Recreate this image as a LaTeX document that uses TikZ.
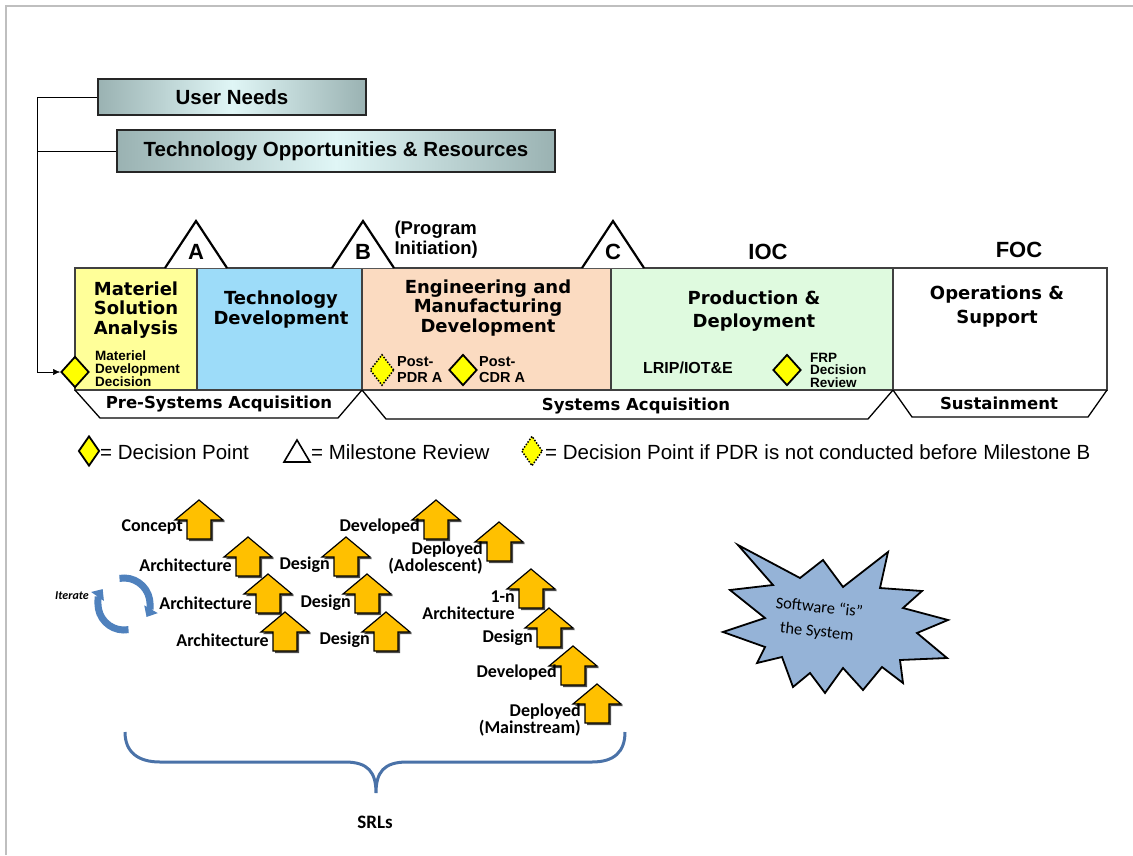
\documentclass[tikz,border=0pt]{standalone}
\usepackage{fontspec}
\setmainfont{Liberation Sans}
\newfontfamily\verdfont{DejaVu Sans}
\newfontfamily\calfont{Carlito}
\usetikzlibrary{shapes.geometric,arrows.meta}
\definecolor{msafill}{HTML}{FFFF99}
\definecolor{tdfill}{HTML}{9DDCF9}
\definecolor{emdfill}{HTML}{FBDBC1}
\definecolor{pdfill}{HTML}{DFFADF}
\definecolor{dpyellow}{HTML}{FFFF00}
\definecolor{srlorange}{HTML}{FFC000}
\definecolor{burstblue}{HTML}{95B3D7}
\definecolor{iterblue}{HTML}{4F81BD}
\definecolor{braceblue}{HTML}{4A72A8}
\definecolor{boxedge}{HTML}{9AB2B2}
\definecolor{boxmid}{HTML}{E0F6F6}
\newcommand{\sz}[2]{\fontsize{#1}{#2}\selectfont}
\begin{document}
\begin{tikzpicture}[x=1pt,y=-1pt,
  needbox/.style={draw=black!85,line width=2.2pt,left color=boxedge,right color=boxedge,
    middle color=boxmid,font=\bfseries\sz{20.5}{22}},
  phasebox/.style={draw=black!75,line width=2.4pt},
  phasetitle/.style={font=\verdfont\bfseries\sz{18}{19.5},align=center},
  tabline/.style={draw=black,line width=1.3pt},
  tabtext/.style={font=\verdfont\bfseries\sz{16.5}{18}},
  milestone/.style={draw=black,line width=2.2pt,fill=white},
  decision/.style={diamond,draw=black,line width=1.8pt,fill=dpyellow,inner sep=0pt,
    minimum width=28pt,minimum height=31pt},
  pdrdecision/.style={decision,line width=1.5pt,dash pattern=on 1.5pt off 1.5pt},
  smalltext/.style={font=\bfseries\sz{13.5}{12.5},align=left,inner sep=0pt},
  legendtext/.style={font=\sz{20.5}{24},anchor=west,inner sep=0pt},
  srlarrow/.style={draw=black,line width=1.2pt,fill=srlorange},
  srltext/.style={font=\calfont\bfseries\sz{18}{17},align=right,inner sep=0pt},
  cyc/.style={iterblue,line width=7pt,-{Triangle[width=15pt,length=9pt]}}]
\useasboundingbox (0,0) rectangle (1133,855);
\draw[gray!50,line width=2.5pt] (6,855) -- (6,6) -- (1133,6);

%% inputs on the left
\node[needbox,minimum width=268pt,minimum height=36pt] (un) at (232,97) {User Needs};
\node[needbox,minimum width=438pt,minimum height=42pt] (tor) at (336,151)
  {Technology Opportunities \& Resources};
\coordinate (bus) at (37,0);

%% phases
\foreach \xa/\xb/\col in {75/197/msafill, 197/362/tdfill, 362/611/emdfill,
  611/893/pdfill, 893/1107/white} {
  \draw[phasebox,fill=\col] (\xa,268) rectangle (\xb,390);
}
\node[phasetitle] (msa) at (136,310) {Materiel\\Solution\\Analysis};
\node[phasetitle,font=\verdfont\bfseries\sz{18}{20}] (td) at (281,310) {Technology\\Development};
\node[phasetitle] (emd) at (488,308) {Engineering and\\Manufacturing\\Development};
\node[phasetitle,font=\verdfont\bfseries\sz{18}{23}] (pd) at (754,311) {Production \&\\Deployment};
\node[phasetitle,font=\verdfont\bfseries\sz{18}{24}] (os) at (997,307) {Operations \&\\Support};

%% acquisition tabs
\draw[tabline] (75,390) -- (100,418) -- (338,418) -- (362,390);
\draw[tabline] (362,390) -- (386,419) -- (868,419) -- (893,390);
\draw[tabline] (893,390) -- (912,417) -- (1088,417) -- (1107,390);
\node[tabtext] (pre) at (219,404) {Pre-Systems Acquisition};
\node[tabtext] (sys) at (636,406) {Systems Acquisition};
\node[tabtext] (sus) at (999,403) {Sustainment};

%% milestones
\foreach \mx/\ml in {196/A, 363/B, 613/C} {
  \draw[milestone] (\mx-31,268) -- (\mx,221) -- (\mx+31,268);
  \node[font=\bfseries\sz{22}{22}] (ms\ml) at (\mx,252) {\ml};
}
\node[font=\bfseries\sz{18.5}{20},align=left,anchor=west] (pi) at (391,240) {(Program\\Initiation)};
\node[font=\bfseries\sz{22}{22}] (ioc) at (768,252) {IOC};
\node[font=\bfseries\sz{22}{22}] (foc) at (1019,250) {FOC};

%% decision points
\node[decision] (mdd) at (75,372) {};
\node[smalltext,anchor=west] (mddt) at (95,369) {Materiel\\Development\\Decision};
\node[pdrdecision,minimum width=24pt] (pdr) at (382,370) {};
\node[smalltext,anchor=west,font=\bfseries\sz{14.5}{16}] (pdrt) at (397,370) {Post-\\PDR A};
\node[decision] (cdr) at (463,370) {};
\node[smalltext,anchor=west,font=\bfseries\sz{14.5}{16}] (cdrt) at (479,370) {Post-\\CDR A};
\node[font=\bfseries\sz{16}{16}] (lrip) at (688,368) {LRIP/IOT\&E};
\node[decision] (frp) at (787,370) {};
\node[smalltext,anchor=west] (frpt) at (810,370) {FRP\\Decision\\Review};

\draw (un.west) -- (un.west -| bus);
\draw[-{Latex[length=7pt,width=6pt]}] (un.west -| bus) |- (mdd.west);
\draw (tor.west) -- (tor.west -| bus);

%% legend
\node[decision,minimum width=21pt,minimum height=30pt] (lgd) at (89,451) {};
\node[legendtext] (lgdt) at (100,452) {= Decision Point};
\draw[line width=1.6pt] (284,462) -- (297,440) -- (310,462) -- cycle;
\node[legendtext] (lgmt) at (311,452) {= Milestone Review};
\node[pdrdecision,minimum width=21pt,minimum height=30pt] (lgp) at (532,451) {};
\node[legendtext] (lgpt) at (545,452) {= Decision Point if PDR is not conducted before Milestone B};

%% software readiness levels
\foreach \cx/\ay/\txt/\dy [count=\i] in {199/500/Concept/27, 248/537/Architecture/28,
  346/537/Design/28, 436/500/Developed/27, 499/522/{Deployed\\(Adolescent)}/36,
  268/574/Architecture/29, 367/574/Design/29, 285/612/Architecture/28,
  386/612/Design/28, 531/569/{1-n\\Architecture}/36, 549/608/Design/30,
  573/646/Developed/27, 597/684/{Deployed\\(Mainstream)}/36} {
  \fill[black!70,shift={(\cx+2,\ay+2)}] (0,0) -- (24,20) -- (12,20) -- (12,39)
    -- (-12,39) -- (-12,20) -- (-24,20) -- cycle;
  \draw[srlarrow,shift={(\cx,\ay)}] (0,0) -- (24,20) -- (12,20) -- (12,39)
    -- (-12,39) -- (-12,20) -- (-24,20) -- cycle;
  \node[srltext,anchor=east] (srl\i) at (\cx-16,\ay+\dy) {\txt};
}

%% iterate cycle
\coordinate (itc) at (124,604);
\draw[cyc] ([shift={(80:26)}]itc) arc[start angle=80,end angle=215,radius=26];
\draw[cyc] ([shift={(-100:26)}]itc) arc[start angle=-100,end angle=30,radius=26];
\node[font=\calfont\bfseries\itshape\sz{12}{12}] (iter) at (72,596) {Iterate};

\draw[braceblue,line width=3pt] (125,732) .. controls (125,752) and (138,762) .. (160,762)
  -- (345,762) .. controls (368,762) and (376,772) .. (376,793)
  .. controls (376,772) and (384,762) .. (407,762) -- (592,762)
  .. controls (614,762) and (625,752) .. (625,732);
\node[font=\calfont\bfseries\sz{19}{19}] (srls) at (375,822) {SRLs};

%% software is the system
\draw[draw=black,line width=1.8pt,fill=burstblue] (738,545) -- (800,578) -- (823,560)
  -- (843,587) -- (888,552) -- (880,588) -- (922,591) -- (903,608) -- (948,620)
  -- (917,633) -- (947,658) -- (900,660) -- (903,683) -- (882,667) -- (863,690)
  -- (843,668) -- (825,693) -- (810,673) -- (793,687) -- (782,657) -- (757,663)
  -- (765,647) -- (723,632) -- (765,618) -- (730,590) -- (773,585) -- cycle;
\node[font=\calfont\sz{16.5}{24},align=center,rotate=-6] (sis) at (818,620)
  {Software “is”\\the System};
\end{tikzpicture}
\end{document}
